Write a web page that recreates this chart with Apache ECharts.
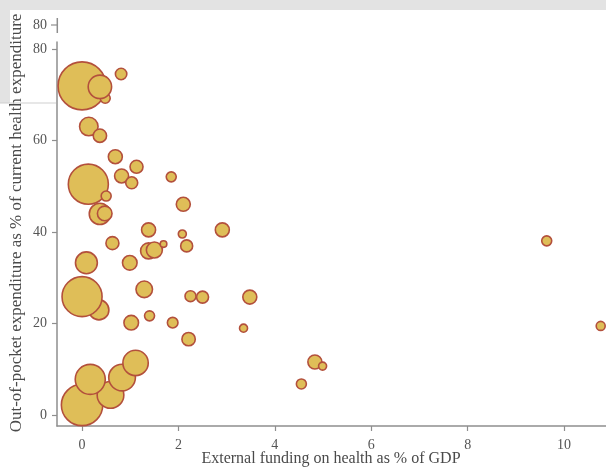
<!DOCTYPE html>
<html>
<head>
<meta charset="utf-8">
<script src="https://cdn.jsdelivr.net/npm/echarts@6/dist/echarts.min.js"></script>
<style>
  html, body { margin: 0; padding: 0; background: #ffffff; }
  #chart { width: 606px; height: 468px; }
</style>
</head>
<body>
<div id="chart"></div>
<script>
// External funding on health (% of GDP) vs out-of-pocket share of current health expenditure.
// Bubble area follows the weight of each country; array order is drawing order.
const externalFunding = [
  0.00, 0.48, 0.37, 0.81, 0.14, 0.37, 0.69, 1.13, 0.82, 1.03,
  1.85, 0.13, 0.50, 2.10, 0.37, 0.47, 1.38, 2.08, 2.17, 2.91,
  0.63, 1.38, 1.50, 1.69, 0.09, 0.99, 0.35, 0.00, 1.29, 2.25,
  2.50, 3.48, 1.40, 1.02, 1.88, 2.21, 3.35, 0.00, 0.59, 0.17,
  0.83, 1.11, 4.83, 4.99, 4.55, 9.64, 10.76
];
const outOfPocket = [
  72.0, 69.3, 71.8, 74.6, 63.1, 61.1, 56.5, 54.3, 52.3, 50.8,
  52.1, 50.5, 47.9, 46.1, 44.0, 44.1, 40.5, 39.6, 37.0, 40.5,
  37.6, 35.9, 36.1, 37.4, 33.3, 33.3, 23.0, 25.9, 27.5, 26.0,
  25.8, 25.8, 21.7, 20.2, 20.2, 16.6, 19.0, 2.2, 4.4, 7.8,
  8.2, 11.4, 11.6, 10.7, 6.8, 38.1, 19.5
];
const weight = [
  168, 7.3, 40, 9.5, 25, 13, 14.3, 12.3, 14.3, 10.5,
  7.3, 117, 7.3, 14.3, 33, 15.6, 14.3, 4.7, 10.5, 14.3,
  12.3, 18.7, 18.7, 3.2, 35, 15.6, 29, 117, 20, 8.8,
  10.5, 14.3, 7.3, 15.6, 8.2, 13, 4.7, 125, 52, 66,
  52, 47, 14.3, 4.7, 7.3, 7.3, 5.9
];
const xTicks = [0, 2, 4, 6, 8, 10];
const yTicks = [0, 20, 40, 60, 80];
const xTitle = 'External funding on health as % of GDP';
const yTitle = 'Out-of-pocket expenditure as % of current health expenditure';

const points = externalFunding.map((x, i) => [x, outOfPocket[i], weight[i]]);

const serif = '"Liberation Serif", "DejaVu Serif", serif';
const axisGrey = '#8e8e8e';
const textGrey = '#555555';

const chart = echarts.init(document.getElementById('chart'), null, { renderer: 'canvas' });

chart.setOption({
  animation: false,
  backgroundColor: '#ffffff',
  grid: { left: 57, right: 0, top: 42, bottom: 42, containLabel: false, outerBoundsMode: 'none' },
  xAxis: {
    type: 'value',
    min: -0.52,
    max: 10.87,
    axisLine: { show: true, onZero: false, lineStyle: { color: axisGrey, width: 1.5 } },
    axisTick: { show: true, length: 5, customValues: xTicks, lineStyle: { color: axisGrey, width: 1.2 } },
    axisLabel: { customValues: xTicks, margin: 12, fontFamily: serif, fontSize: 14, color: textGrey },
    splitLine: { show: false }
  },
  yAxis: {
    type: 'value',
    min: -2.4,
    max: 81.6,
    axisLine: { show: true, onZero: false, lineStyle: { color: axisGrey, width: 1.5 } },
    axisTick: { show: true, length: 5, customValues: yTicks, lineStyle: { color: axisGrey, width: 1.2 } },
    axisLabel: { customValues: yTicks, margin: 10, fontFamily: serif, fontSize: 14, color: textGrey },
    splitLine: { show: false }
  },
  series: [{
    type: 'scatter',
    data: points,
    clip: false,
    symbol: 'circle',
    symbolSize: (val) => 3.7 * Math.sqrt(val[2]),
    itemStyle: {
      color: '#dfbe58',
      borderColor: '#b3503c',
      borderWidth: 1.6,
      opacity: 1
    },
    emphasis: { disabled: true }
  }],
  graphic: [
    {
      type: 'text',
      z: 50,
      x: 331,
      y: 459,
      style: {
        text: xTitle,
        fontFamily: serif,
        fontSize: 16,
        fill: '#4a4a4a',
        align: 'center',
        verticalAlign: 'middle'
      }
    },
    {
      type: 'text',
      z: 50,
      x: 17,
      y: 223,
      rotation: Math.PI / 2,
      style: {
        text: yTitle,
        fontFamily: serif,
        fontSize: 17,
        fill: '#4a4a4a',
        align: 'center',
        verticalAlign: 'middle'
      }
    },
    // second copy of the top axis label, above the main axis
    {
      type: 'text',
      z: 50,
      x: 47,
      y: 25,
      style: {
        text: '80',
        fontFamily: serif,
        fontSize: 14,
        fill: textGrey,
        align: 'right',
        verticalAlign: 'middle'
      }
    },
    {
      type: 'line', z: 50,
      shape: { x1: 51, y1: 25, x2: 57, y2: 25 },
      style: { stroke: axisGrey, lineWidth: 1.2 }
    },
    {
      type: 'line', z: 50,
      shape: { x1: 57.3, y1: 18, x2: 57.3, y2: 33 },
      style: { stroke: axisGrey, lineWidth: 1.5 }
    },
    // window chrome: top band and left strip
    {
      type: 'rect', z: 100,
      shape: { x: 0, y: 0, width: 606, height: 10 },
      style: { fill: '#e3e3e3' }
    },
    {
      type: 'rect', z: 100,
      shape: { x: 0, y: 10, width: 10, height: 93 },
      style: { fill: '#e3e3e3' }
    },
    {
      type: 'line', z: 100,
      shape: { x1: 0, y1: 103, x2: 56, y2: 103 },
      style: { stroke: '#cfcfcf', lineWidth: 1 }
    }
  ]
});
</script>
</body>
</html>
